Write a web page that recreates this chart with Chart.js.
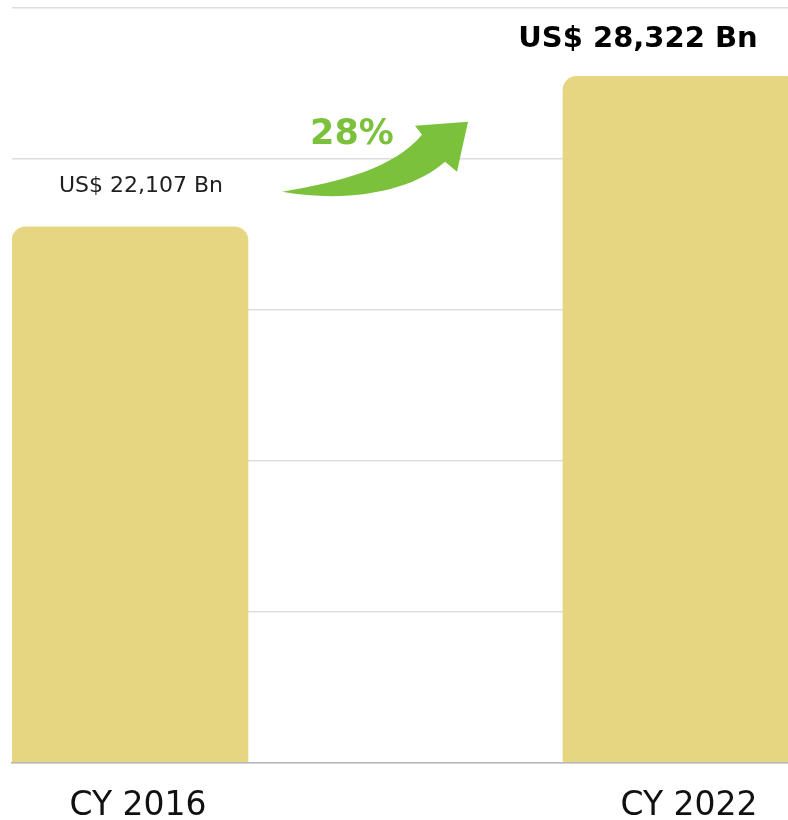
<!DOCTYPE html>
<html>
<head>
<meta charset="utf-8">
<script src="https://cdn.jsdelivr.net/npm/chart.js@4.4.1/dist/chart.umd.min.js"></script>
<style>
  html, body { margin: 0; padding: 0; background: #fff; }
  #wrap { width: 788px; height: 820px; position: relative; overflow: hidden; }
</style>
</head>
<body>
<div id="wrap"><canvas id="gdp"></canvas></div>
<script>
// values
var years = [2016, 2022];
var gdpBn = [22107, 28322];
var growthLabel = "28%";

var yMax = 31140;
var barColor = "#e7d681";
var green = "#7bc13c";

var valueLabels = function() {
    var out = [];
    for (var i = 0; i < gdpBn.length; i++) {
        out.push("US$ " + gdpBn[i].toLocaleString("en-US") + " Bn");
    }
    return out;
}();

var points = years.map(function(y, i) { return { x: y, y: gdpBn[i] }; });

var labelPlugin = {
    id: "valueLabels",
    afterDatasetsDraw: function(chart) {
        var ctx = chart.ctx;
        var bars = chart.getDatasetMeta(0).data;
        ctx.save();
        ctx.textAlign = "center";
        ctx.textBaseline = "middle";

        // first bar: small regular label
        ctx.fillStyle = "#1f1f1f";
        ctx.font = "22px 'DejaVu Sans'";
        ctx.fillText(valueLabels[0], bars[0].x + 11, bars[0].y - 41);

        // second bar: bold label
        ctx.fillStyle = "#000";
        ctx.font = "bold 29px 'DejaVu Sans'";
        ctx.fillText(valueLabels[1], bars[1].x - 43, bars[1].y - 37);

        // growth arrow between the bars
        var ox = bars[0].x + 152, oy = bars[0].y - 35;
        ctx.fillStyle = green;
        ctx.beginPath();
        ctx.moveTo(ox, oy);
        ctx.bezierCurveTo(ox + 60, oy - 10, ox + 112, oy - 24, ox + 140, oy - 57);
        ctx.lineTo(ox + 133, oy - 66);
        ctx.lineTo(ox + 186, oy - 70);
        ctx.lineTo(ox + 175, oy - 20);
        ctx.lineTo(ox + 163, oy - 30);
        ctx.bezierCurveTo(ox + 132, oy - 2, ox + 70, oy + 12, ox, oy);
        ctx.closePath();
        ctx.fill();

        ctx.font = "bold 35px 'DejaVu Sans'";
        ctx.fillText(growthLabel, ox + 70, oy - 57);
        ctx.restore();
    }
};

new Chart(document.getElementById("gdp"), {
    type: "bar",
    data: {
        datasets: [{
            data: points,
            backgroundColor: barColor,
            borderRadius: { topLeft: 14, topRight: 14 },
            borderSkipped: "bottom",
            barThickness: 236
        }]
    },
    options: {
        responsive: true,
        maintainAspectRatio: false,
        animation: false,
        layout: { padding: { left: 12, top: 8, right: 0, bottom: -22 } },
        plugins: {
            legend: { display: false },
            tooltip: { enabled: false }
        },
        scales: {
            x: {
                type: "linear",
                min: 2014.715,
                max: 2023.165,
                offset: false,
                grid: { display: false },
                border: { display: true, color: "#b8b8b8", width: 1.5 },
                afterBuildTicks: function(scale) {
                    scale.ticks = years.map(function(v) { return { value: v }; });
                },
                ticks: {
                    autoSkip: false,
                    maxRotation: 0,
                    padding: 16,
                    labelOffset: 8,
                    color: "#111",
                    font: { family: "'DejaVu Sans'", size: 33 },
                    callback: function(v) { return "CY " + v; }
                }
            },
            y: {
                min: 0,
                max: yMax,
                ticks: { display: false, stepSize: yMax / 5 },
                grid: { color: "#dedede", lineWidth: 1.5, drawTicks: false },
                border: { display: false }
            }
        }
    },
    plugins: [labelPlugin]
});
</script>
</body>
</html>
